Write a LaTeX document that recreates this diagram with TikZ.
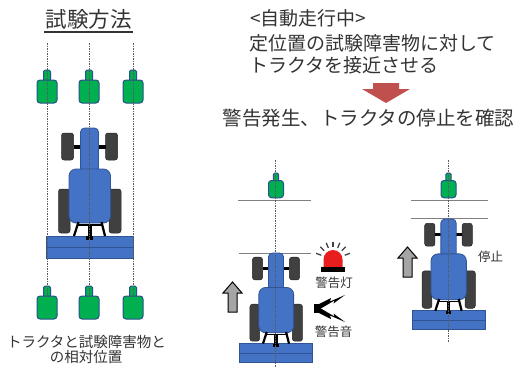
\documentclass[tikz,border=0pt]{standalone}
\usepackage{fontspec}
\setmainfont{Noto Sans CJK JP}
\definecolor{txt}{RGB}{51,51,51}
\definecolor{bodyblue}{RGB}{68,114,196}
\definecolor{edgeblue}{RGB}{47,85,151}
\definecolor{wheelgray}{RGB}{64,64,64}
\definecolor{obsgreen}{RGB}{0,176,80}
\definecolor{obsedge}{RGB}{40,80,140}
\definecolor{guide}{RGB}{90,90,90}
\definecolor{rule}{RGB}{128,128,128}
\definecolor{arrowred}{RGB}{192,80,77}
\definecolor{beaconred}{RGB}{232,30,30}
\definecolor{movegray}{RGB}{165,165,165}
\tikzset{
  wheel/.style={fill=wheelgray, draw=black!85, line width=0.5pt, rounded corners=2.5pt},
  part/.style={fill=bodyblue, draw=edgeblue, line width=0.8pt},
  guideline/.style={draw=guide, line width=0.5pt, dash pattern=on 1.5pt off 1pt},
  ruleline/.style={draw=rule, line width=0.8pt},
  label/.style={inner sep=0pt, text=txt},
  movearrow/.style={fill=movegray, draw=black, line width=1pt, line join=miter},
  tractor/.pic={
    % wheels and front axle
    \path[wheel] (-28,5) rectangle (-16,32);
    \path[wheel] (16,5) rectangle (28,32);
    \fill[black] (-16,16.5) rectangle (16,20.5);
    \path[wheel] (-31,61) rectangle (-19.5,105);
    \path[wheel] (19.5,61) rectangle (31.5,105);
    % hood
    \path[part, rounded corners=4pt] (-9,0) rectangle (9,50);
    % implement
    \path[part] (-43,108) rectangle (43.5,130);
    \draw[edgeblue, line width=0.8pt] (-43,119) -- (43.5,119);
    % cab
    \path[part, rounded corners=7pt] (-20.5,41) rectangle (21,95);
    % hitch
    \draw[black, line width=2.2pt] (-11,94) -- (-15.5,108);
    \draw[black, line width=2.2pt] (12,94) -- (15.5,108);
    \draw[black, line width=1.6pt] (-11.5,97) -- (12.5,97);
    \fill[black] (-2,96) rectangle (2,112);
    \fill[black] (-3.5,108) rectangle (3.5,112);
  },
  obstacle/.pic={
    \path[fill=obsgreen, draw=obsedge, line width=1pt, rounded corners=1.5pt] (-3.5,0) rectangle (3.5,11);
    \path[fill=obsgreen, draw=obsedge, line width=1pt, rounded corners=3pt] (-10,10) rectangle (10,33);
  }
}
\begin{document}
\begin{tikzpicture}[x=1pt, y=-1pt]
\useasboundingbox (0,0) rectangle (522,367);

% ---------- left panel: layout of the test ----------
\node[label, font=\fontsize{21.5}{24}\selectfont] (title) at (88.5,19) {試験方法};
\draw[txt, line width=1.1pt] (44,32) -- (133,32);

\pic (o1) at (47,70) {obstacle};
\pic (o2) at (89,70) {obstacle};
\pic (o3) at (133,70) {obstacle};
\pic (tl) at (89.5,128) {tractor};
\pic (o4) at (47,286) {obstacle};
\pic (o5) at (89,286) {obstacle};
\pic (o6) at (133,286) {obstacle};

\coordinate (g1a) at (47,43);  \coordinate (g1b) at (47,298);
\coordinate (g2a) at (89,43);  \coordinate (g2b) at (89,298);
\coordinate (g3a) at (133,43); \coordinate (g3b) at (133,298);
\draw[guideline] (g1a) -- (g1b);
\draw[guideline] (g2a) -- (g2b);
\draw[guideline] (g3a) -- (g3b);

\node[label, font=\fontsize{14.5}{17}\selectfont] (cap1) at (86.5,342) {トラクタと試験障害物と};
\node[label, font=\fontsize{14.5}{17}\selectfont] (cap2) at (86,357) {の相対位置};

% ---------- right side: procedure ----------
\node[label, anchor=west, font=\fontsize{19}{22}\selectfont] (h1) at (250,18) {<自動走行中>};
\node[label, anchor=west, font=\fontsize{19}{22}\selectfont] (h2) at (249,43) {定位置の試験障害物に対して};
\node[label, anchor=west, font=\fontsize{19}{22}\selectfont] (h3) at (249,65) {トラクタを接近させる};
\fill[arrowred] (373,83) -- (399,83) -- (399,89) -- (410,89) -- (386,103)
  -- (362,89) -- (373,89) -- cycle;
\node[label, font=\fontsize{19.5}{22}\selectfont] (h4) at (368.5,118) {警告発生、トラクタの停止を確認};

% middle scene: warning issued
\draw[ruleline] (238,200) -- (311,200);
\draw[ruleline] (239,253) -- (311,253);
\pic[scale=0.75] (om) at (276,173) {obstacle};
\pic[scale=0.84] (tm) at (276,253) {tractor};
\draw[guideline] (275.5,160) -- (275.5,367);
\path[movearrow] (228,312) -- (228,293) -- (223,293) -- (232.5,282)
  -- (242,293) -- (237,293) -- (237,312) -- cycle;

% warning lamp
\fill[beaconred] (323.5,267.5) -- (323.5,259.5) arc[start angle=180, end angle=360, radius=9.5]
  -- (342.5,267.5) -- cycle;
\fill[black] (321,267) rectangle (345,271.5);
\foreach \a in {160,135,112,90,68,45,20}{
  \draw[wheelgray, line width=1.3pt] ([shift={(333,259.5)}]-\a:12.5) -- ([shift={(333,259.5)}]-\a:18);
}
\node[label, font=\fontsize{12.5}{15}\selectfont] (lamp) at (334,283) {警告灯};

% warning sound
\fill[black] (314,304) rectangle (320,313);
\fill[black] (319,304) -- (331,298) -- (330,301.5) -- (345,295) -- (333.5,303.5)
  -- (334.5,300.5) -- (320,309) -- cycle;
\fill[black] (319,313) -- (331,319) -- (330,315.5) -- (345,322) -- (333.5,313.5)
  -- (334.5,316.5) -- (320,308) -- cycle;
\node[label, font=\fontsize{12.5}{15}\selectfont] (sound) at (333.5,332) {警告音};

% right scene: tractor stopped
\draw[ruleline] (411,200) -- (488,200);
\draw[ruleline] (411,218) -- (488,218);
\pic[scale=0.75] (or) at (448.5,173) {obstacle};
\pic[scale=0.85] (tr) at (448.5,219) {tractor};
\draw[guideline] (448,160) -- (448,342);
\path[movearrow] (403,277) -- (403,258) -- (398,258) -- (407.5,247)
  -- (417,258) -- (412,258) -- (412,277) -- cycle;
\node[label, font=\fontsize{12.5}{15}\selectfont] (stop) at (490.5,257) {停止};
\end{tikzpicture}
\end{document}
